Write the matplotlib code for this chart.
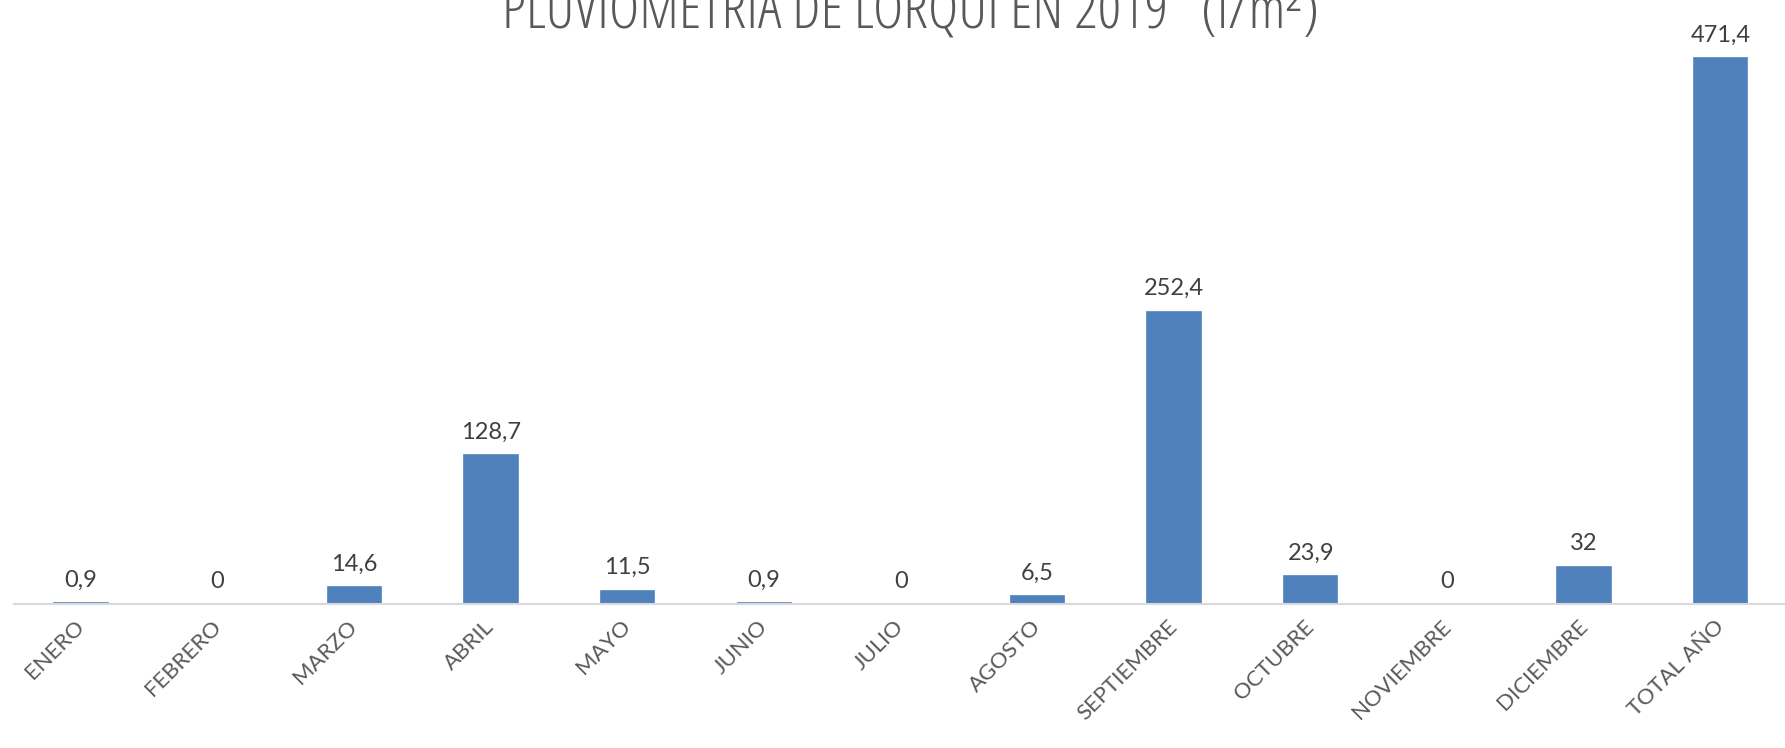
import matplotlib.pyplot as plt

months = ["ENERO", "FEBRERO", "MARZO", "ABRIL", "MAYO", "JUNIO", "JULIO",
          "AGOSTO", "SEPTIEMBRE", "OCTUBRE", "NOVIEMBRE", "DICIEMBRE", "TOTAL AÑO"]
rain = [0.9, 0, 14.6, 128.7, 11.5, 0.9, 0, 6.5, 252.4, 23.9, 0, 32, 471.4]
labels = ["0,9", "0", "14,6", "128,7", "11,5", "0,9", "0", "6,5", "252,4",
          "23,9", "0", "32", "471,4"]

plt.rcParams["font.family"] = ["Lato", "DejaVu Sans"]

fig = plt.figure(figsize=(17.85, 7.48), dpi=100)
ax = fig.add_axes([0.0078, 0.1925, 0.9922, 0.7741])

x = range(len(months))
bars = ax.bar(x, rain, width=0.39, color="#4F81BD", edgecolor="#4F81BD",
              linewidth=1.2, zorder=2)
# zero-value bars should not show an edge line
for b, v in zip(bars, rain):
    if v == 0:
        b.set_linewidth(0)

for b, lab in zip(bars, labels):
    ax.annotate(lab, (b.get_x() + b.get_width() / 2, b.get_height()),
                xytext=(0, 9), textcoords="offset points",
                ha="center", va="bottom", fontsize=17, color="#404040")

ax.set_xlim(-0.49, 12.47)
ax.set_ylim(0, 500)
ax.set_yticks([])
ax.set_xticks(list(x))
ax.set_xticklabels(months, rotation=45, ha="right", va="center",
                   rotation_mode="anchor", fontsize=16, color="#595959")
ax.tick_params(axis="x", length=0, pad=14)
for s in ["top", "right", "left"]:
    ax.spines[s].set_visible(False)
ax.spines["bottom"].set_color("#D9D9D9")
ax.spines["bottom"].set_linewidth(1.5)

fig.text(0.51, 0.962, "PLUVIOMETRIA DE LORQUI EN 2019   (l/m²)",
         ha="center", va="baseline", fontsize=42, color="#595959",
         family=["Open Sans", "DejaVu Sans"], fontstretch="condensed")

fig.savefig("out.png", dpi=100)
